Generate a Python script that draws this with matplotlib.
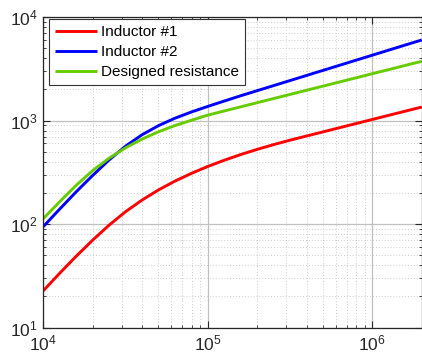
import matplotlib
matplotlib.use("Agg")
import matplotlib.pyplot as plt
from matplotlib.ticker import LogLocator, NullFormatter
import numpy as np

plt.rcParams['font.family'] = ['Liberation Sans', 'DejaVu Sans']
plt.rcParams['mathtext.fontset'] = 'custom'
plt.rcParams['mathtext.rm'] = 'Liberation Sans'
plt.rcParams['mathtext.it'] = 'Liberation Sans'

# log10(frequency) sample points
logf = [4.0, 4.1, 4.2, 4.3, 4.4, 4.5, 4.6, 4.7, 4.8, 4.9, 5.0, 5.1, 5.2, 5.3,
        5.4, 5.5, 5.6, 5.7, 5.8, 5.9, 6.0, 6.1, 6.2, 6.301]

# log10(resistance)
logr_red = [1.355, 1.525, 1.689, 1.844, 1.989, 2.119, 2.231, 2.329, 2.414, 2.489,
            2.556, 2.616, 2.671, 2.721, 2.767, 2.810, 2.850, 2.890, 2.930, 2.970,
            3.010, 3.050, 3.090, 3.130]
logr_blue = [1.975, 2.145, 2.311, 2.469, 2.619, 2.752, 2.862, 2.950, 3.022, 3.082,
             3.136, 3.188, 3.239, 3.288, 3.337, 3.386, 3.435, 3.484, 3.533, 3.582,
             3.631, 3.680, 3.729, 3.778]
logr_green = [2.052, 2.216, 2.374, 2.516, 2.636, 2.736, 2.820, 2.891, 2.951, 3.002,
              3.052, 3.092, 3.132, 3.172, 3.212, 3.252, 3.292, 3.332, 3.372, 3.412,
              3.452, 3.492, 3.532, 3.572]

labels = ["Inductor #1", "Inductor #2", "Designed resistance"]
colors = ["#ff0000", "#0000ff", "#66cc00"]

fig = plt.figure(figsize=(4.22, 3.62), dpi=100)
ax = fig.add_axes([43.3/422, 1-327.5/362, (421.8-43.3)/422, (327.5-17)/362])

f = 10**np.array(logf)
for lr, c, lab in zip([logr_red, logr_blue, logr_green], colors, labels):
    ax.plot(f, 10**np.array(lr), color=c, lw=2.1, label=lab, solid_capstyle='butt')

ax.set_xscale('log')
ax.set_yscale('log')
ax.set_xlim(1e4, 2e6)
ax.set_ylim(1e1, 1e4)

ax.xaxis.set_major_locator(LogLocator(base=10, numticks=10))
ax.yaxis.set_major_locator(LogLocator(base=10, numticks=10))
ax.xaxis.set_minor_locator(LogLocator(base=10, subs=np.arange(2, 10), numticks=20))
ax.yaxis.set_minor_locator(LogLocator(base=10, subs=np.arange(2, 10), numticks=20))
ax.xaxis.set_minor_formatter(NullFormatter())
ax.yaxis.set_minor_formatter(NullFormatter())

ax.grid(True, which='major', color='#c0c0c0', lw=0.9, ls='-')
ax.grid(True, which='minor', color='#cdcdcd', lw=0.7, ls=(0, (1, 2)))
ax.set_axisbelow(True)

for s in ax.spines.values():
    s.set_color('#262626')
    s.set_linewidth(0.9)

ax.tick_params(which='both', direction='in', top=True, right=True, colors='#262626',
               labelsize=12.5, labelcolor='#262626')
ax.tick_params(which='major', length=5, pad=4)
ax.tick_params(which='minor', length=2.5)

leg = ax.legend(loc='upper left', bbox_to_anchor=(0.015, 0.9936), borderaxespad=0,
                fontsize=11, handlelength=2.75, handletextpad=0.25,
                labelspacing=0.4, borderpad=0.4, fancybox=False, framealpha=1,
                edgecolor='#333333')
leg.get_frame().set_linewidth(0.8)

fig.savefig("out.png", dpi=100)
